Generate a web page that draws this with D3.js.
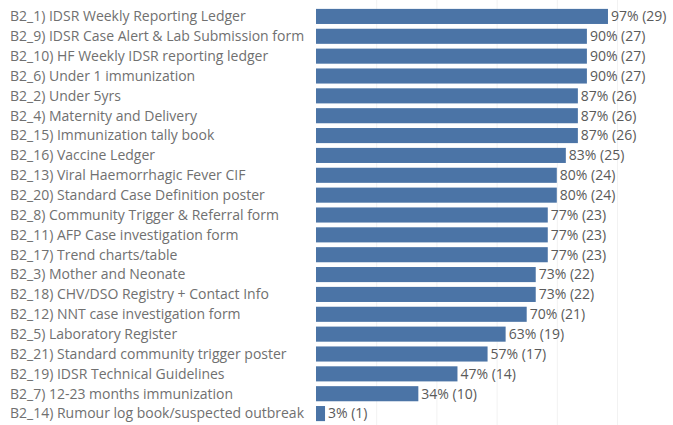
<!DOCTYPE html>
<html>
<head>
<meta charset="utf-8">
<script src="https://cdn.jsdelivr.net/npm/d3@7"></script>
<style>
  body { margin: 0; background: #fff; }
  svg { display: block; }
  .lbl { font-family: "Open Sans", sans-serif; font-size: 14px; fill: #707070; }
  .val { font-family: "Open Sans", sans-serif; font-size: 14px; fill: #5a5a5a; }
</style>
</head>
<body>
<div id="chart"></div>
<script>
// form availability bar chart
let categories = [
  'B2_1) IDSR Weekly Reporting Ledger',
  'B2_9) IDSR Case Alert & Lab Submission form',
  'B2_10) HF Weekly IDSR reporting ledger',
  'B2_6) Under 1 immunization',
  'B2_2) Under 5yrs',
  'B2_4) Maternity and Delivery',
  'B2_15) Immunization tally book',
  'B2_16) Vaccine Ledger',
  'B2_13) Viral Haemorrhagic Fever CIF',
  'B2_20) Standard Case Definition poster',
  'B2_8) Community Trigger & Referral form',
  'B2_11) AFP Case investigation form',
  'B2_17) Trend charts/table',
  'B2_3) Mother and Neonate',
  'B2_18) CHV/DSO Registry + Contact Info',
  'B2_12) NNT case investigation form',
  'B2_5) Laboratory Register',
  'B2_21) Standard community trigger poster',
  'B2_19) IDSR Technical Guidelines',
  'B2_7) 12-23 months immunization',
  'B2_14) Rumour log book/suspected outbreak'
]
let percents = [97, 90, 90, 90, 87, 87, 87, 83, 80, 80, 77, 77, 77, 73, 73, 70, 63, 57, 47, 34, 3]
let counts = [29, 27, 27, 27, 26, 26, 26, 25, 24, 24, 23, 23, 23, 22, 22, 21, 19, 17, 14, 10, 1]
let gridTicks = [20, 40, 60, 80, 100]

let width = 673, height = 425

let svg = d3.select('#chart').append('svg')
    .attr('width', width)
    .attr('height', height)

let x = d3.scaleLinear().domain([0, 100]).range([316, 617])
let y = d3.scaleBand().domain(categories).range([6.5, 423.5])
    .paddingInner(0.24).paddingOuter(0.12)

// faint gridlines
svg.selectAll('.grid')
    .data(gridTicks)
    .enter()
    .append('line')
    .attr('x1', d => x(d) + 0.5)
    .attr('x2', d => x(d) + 0.5)
    .attr('y1', 0)
    .attr('y2', height)
    .attr('stroke', '#f2f2f2')
    .attr('stroke-width', 1)

let rows = categories.map((c, i) => ({cat: c, pct: percents[i], n: counts[i]}))

svg.selectAll('.bar')
    .data(rows)
    .enter()
    .append('rect')
    .attr('x', x(0))
    .attr('y', d => y(d.cat))
    .attr('width', d => x(d.pct) - x(0))
    .attr('height', y.bandwidth())
    .attr('fill', '#4b74a6')

svg.selectAll('.lbl')
    .data(rows)
    .enter()
    .append('text')
    .attr('class', 'lbl')
    .attr('x', 10)
    .attr('y', d => y(d.cat) + y.bandwidth() / 2)
    .attr('dy', '0.35em')
    .text(d => d.cat)

svg.selectAll('.val')
    .data(rows)
    .enter()
    .append('text')
    .attr('class', 'val')
    .attr('x', d => x(d.pct) + 3)
    .attr('y', d => y(d.cat) + y.bandwidth() / 2)
    .attr('dy', '0.35em')
    .text(d => d.pct + '% (' + d.n + ')')
</script>
</body>
</html>
